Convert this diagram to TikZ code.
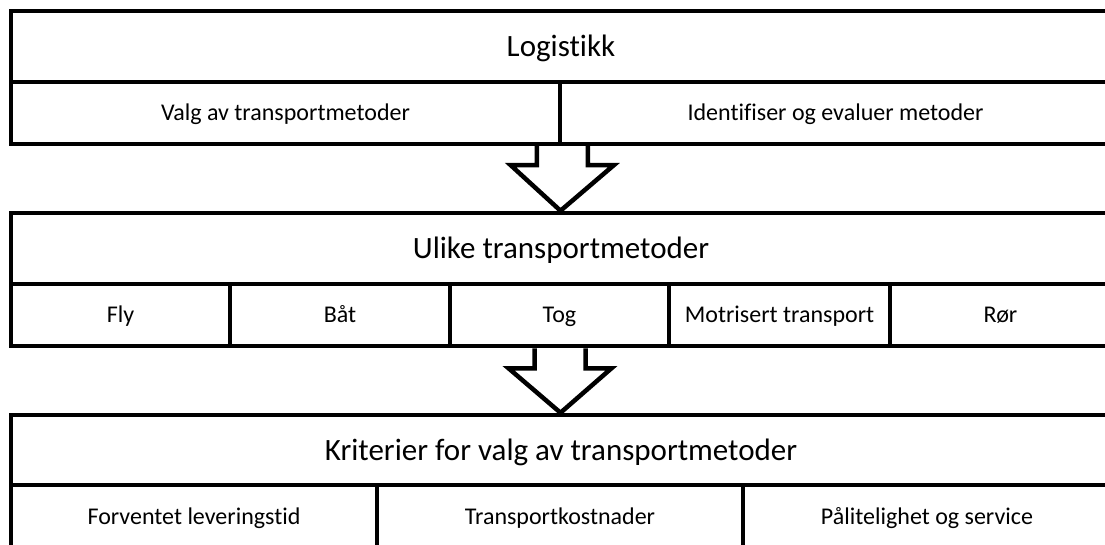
\documentclass[tikz,border=0pt]{standalone}
\usepackage{fontspec}
\setmainfont{Carlito}[Ligatures=NoCommon]
\usetikzlibrary{calc}
\tikzset{
  cell/.style={draw=black, line width=4.5pt, inner sep=0pt, rectangle, text depth=0pt},
  headcell/.style={cell, text height=20pt, font=\fontsize{31}{36}\selectfont},
  subcell/.style={cell, text height=15.4pt, minimum height=62pt, font=\fontsize{24}{28}\selectfont},
  hollow/.style={draw=black, line width=4.5pt, line join=miter},
}
\begin{document}
\begin{tikzpicture}[x=1pt, y=-1pt]
\useasboundingbox (0,0) rectangle (1105,545);
\clip (0,0) rectangle (1105,545);

% block 1: logistics
\node[headcell, minimum width=1100pt, minimum height=71pt] (logi) at (561,46.5) {Logistikk};
\node[subcell, minimum width=549pt] (valg)  at (285.5,113) {Valg av transportmetoder};
\node[subcell, minimum width=551pt] (ident) at (835.5,113) {Identifiser og evaluer metoder};

% block 2: transport methods
\node[headcell, minimum width=1100pt, minimum height=71pt] (ulike) at (561,248.5) {Ulike transportmetoder};
\node[subcell, minimum width=219pt] (fly)  at (120.5,315) {Fly};
\node[subcell, minimum width=220pt] (baat) at (340,315)   {Båt};
\node[subcell, minimum width=219pt] (tog)  at (559.5,315) {Tog};
\node[subcell, minimum width=221pt] (motr) at (779.5,315) {Motrisert transport};
\node[subcell, minimum width=221pt] (roer) at (1000.5,315) {Rør};

% block 3: selection criteria
\node[headcell, minimum width=1100pt, minimum height=70pt] (krit) at (561,450) {Kriterier for valg av transportmetoder};
\node[subcell, minimum width=366pt, minimum height=63pt] (forv) at (194,516.5) {Forventet leveringstid};
\node[subcell, minimum width=366pt, minimum height=63pt] (kost) at (560,516.5) {Transportkostnader};
\node[subcell, minimum width=368pt, minimum height=63pt] (paal) at (927,516.5) {Pålitelighet og service};

% hollow block arrows between the blocks
\draw[hollow] ($(valg.south east)+(-25.5,0)$) |- ($(valg.south east)+(-51.5,19)$)
  -- ($(ulike.north)+(-0.5,0)$) -- ($(valg.south east)+(51.5,19)$) -| ($(valg.south east)+(25.5,0)$);
\draw[hollow] ($(tog.south)+(-25,0)$) |- ($(tog.south)+(-51,20)$)
  -- ($(krit.north)+(-0.5,0)$) -- ($(tog.south)+(52,20)$) -| ($(tog.south)+(26,0)$);
\end{tikzpicture}
\end{document}
